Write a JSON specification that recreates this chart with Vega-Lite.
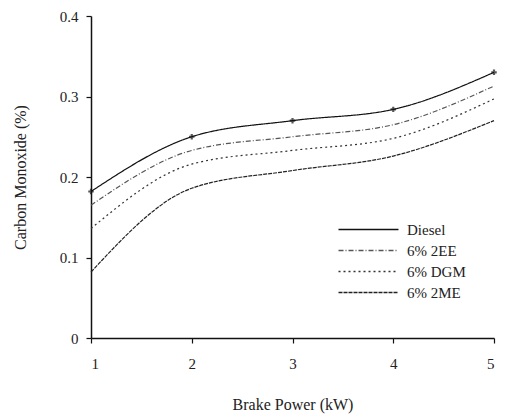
{
  "$schema": "https://vega.github.io/schema/vega-lite/v6.json",
  "width": 403,
  "height": 322,
  "autosize": {"type": "none"},
  "padding": {"left": 91, "top": 16, "right": 34, "bottom": 81},
  "background": "white",
  "config": {
    "view": {"stroke": null},
    "font": "Liberation Serif, serif",
    "axis": {"grid": false, "domainColor": "#111", "tickColor": "#111", "labelColor": "#222", "titleColor": "#222", "labelFont": "Liberation Serif, serif", "titleFont": "Liberation Serif, serif", "labelFontSize": 15, "titleFontSize": 16, "titleFontWeight": "normal", "domainWidth": 1.5, "tickWidth": 1.2},
    "legend": {"labelFont": "Liberation Serif, serif"}
  },
  "data": {"values": [
    {"bp": 1, "co": 0.182, "series": "Diesel"},
    {"bp": 2, "co": 0.250, "series": "Diesel"},
    {"bp": 3, "co": 0.270, "series": "Diesel"},
    {"bp": 4, "co": 0.284, "series": "Diesel"},
    {"bp": 5, "co": 0.330, "series": "Diesel"},
    {"bp": 1, "co": 0.165, "series": "6% 2EE"},
    {"bp": 2, "co": 0.233, "series": "6% 2EE"},
    {"bp": 3, "co": 0.250, "series": "6% 2EE"},
    {"bp": 4, "co": 0.265, "series": "6% 2EE"},
    {"bp": 5, "co": 0.313, "series": "6% 2EE"},
    {"bp": 1, "co": 0.136, "series": "6% DGM"},
    {"bp": 2, "co": 0.216, "series": "6% DGM"},
    {"bp": 3, "co": 0.233, "series": "6% DGM"},
    {"bp": 4, "co": 0.248, "series": "6% DGM"},
    {"bp": 5, "co": 0.297, "series": "6% DGM"},
    {"bp": 1, "co": 0.082, "series": "6% 2ME"},
    {"bp": 2, "co": 0.186, "series": "6% 2ME"},
    {"bp": 3, "co": 0.208, "series": "6% 2ME"},
    {"bp": 4, "co": 0.226, "series": "6% 2ME"},
    {"bp": 5, "co": 0.270, "series": "6% 2ME"}
  ]},
  "layer": [
    {
      "mark": {"type": "line", "interpolate": "monotone", "strokeWidth": 1.2},
      "encoding": {
        "x": {"field": "bp", "type": "quantitative", "scale": {"domain": [1, 5], "nice": false}, "axis": {"values": [1, 2, 3, 4, 5], "title": "Brake Power (kW)", "tickSize": 5, "labelPadding": 13, "titlePadding": 25, "format": "d"}},
        "y": {"field": "co", "type": "quantitative", "scale": {"domain": [0, 0.4], "nice": false}, "axis": {"values": [0, 0.1, 0.2, 0.3, 0.4], "title": "Carbon Monoxide (%)", "tickSize": 5, "labelPadding": 8, "titlePadding": 31, "labelExpr": "datum.value == 0 ? '0' : format(datum.value, '.1f')"}},
        "color": {"field": "series", "type": "nominal", "scale": {"domain": ["Diesel", "6% 2EE", "6% DGM", "6% 2ME"], "range": ["#111111", "#555555", "#333333", "#222222"]}, "legend": {"title": null, "orient": "none", "legendX": 300, "legendY": 206, "symbolType": "M-60,0H0", "symbolSize": 4, "symbolStrokeWidth": 1.3, "labelFont": "Liberation Serif, serif", "labelFontSize": 15, "labelColor": "#222", "rowPadding": 5, "labelOffset": 1}},
        "strokeDash": {"field": "series", "type": "nominal", "scale": {"domain": ["Diesel", "6% 2EE", "6% DGM", "6% 2ME"], "range": [[1, 0], [5, 2, 1, 2], [2, 3], [4, 1]]}, "legend": {"title": null, "orient": "none", "legendX": 300, "legendY": 206, "symbolType": "M-60,0H0", "symbolSize": 4, "symbolStrokeWidth": 1.3, "labelFont": "Liberation Serif, serif", "labelFontSize": 15, "labelColor": "#222", "rowPadding": 5, "labelOffset": 1}}
      }
    },
    {
      "transform": [{"filter": "datum.series == 'Diesel'"}],
      "mark": {"type": "point", "shape": "cross", "filled": true, "size": 30, "color": "#111"},
      "encoding": {
        "x": {"field": "bp", "type": "quantitative"},
        "y": {"field": "co", "type": "quantitative"}
      }
    }
  ]
}
